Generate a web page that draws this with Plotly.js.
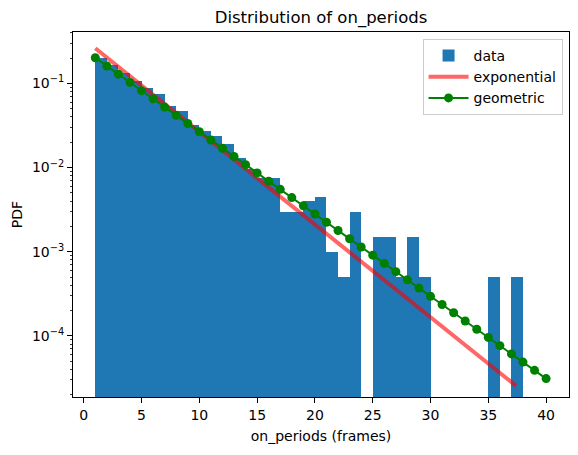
<!DOCTYPE html>
<html>
<head>
<meta charset="utf-8">
<script src="https://cdn.plot.ly/plotly-3.0.1.min.js"></script>
<style>html,body{margin:0;padding:0;background:#fff;}#chart{width:578px;height:455px;}</style>
</head>
<body>
<div id="chart"></div>
<script>
// Histogram bins (left edges, width 1) and density heights
var binLeft = [1,2,3,4,5,6,7,8,9,10,11,12,13,14,15,16,17,18,19,20,21,22,23,24,25,26,27,28,29,30,31,32,33,34,35,36,37];
var density = [0.2,0.163,0.132,0.107,0.0875,0.075,0.054,0.047,0.032,0.027,0.0235,0.019,0.013,0.0095,0.0075,0.0075,0.003,0.003,0.004,0.0045,0.001,0.0005,0.003,0,0.0015,0.0015,0.0005,0.0015,0.0005,0,0,0,0,0,0.0005,0,0.0005];

// Exponential fit curve (sampled)
var expX = [1,5,10,15,20,25,30,35,37.4];
var expY = [0.2612,0.09467,0.02662,0.007483,0.002104,0.0005918,0.0001664,0.0000468,0.00002547];

// Geometric fit (pmf at k)
var geoK = [1,2,3,4,5,6,7,8,9,10,11,12,13,14,15,16,17,18,19,20,21,22,23,24,25,26,27,28,29,30,31,32,33,34,35,36,37,38,39,40];
var geoY = [0.2015,0.1609,0.1285,0.1026,0.08192,0.06541,0.05223,0.04171,0.0333,0.02659,0.02123,0.01696,0.01354,0.01081,0.008632,0.006893,0.005504,0.004395,0.003509,0.002802,0.002237,0.001787,0.001426,0.001139,0.0009094,0.0007262,0.0005798,0.000463,0.0003697,0.0002952,0.0002357,0.0001882,0.0001503,0.00012,0.00009583,0.00007652,0.00006109,0.00004879,0.00003896,0.00003111];

// Tick labels
var xTickVals = [0,5,10,15,20,25,30,35,40];
var yTickVals = [0.1,0.01,0.001,0.0001];
var yTickText = ['10<sup>−1</sup>','10<sup>−2</sup>','10<sup>−3</sup>','10<sup>−4</sup>'];

var barX = binLeft.map(function(v){return v + 0.5;});
var barY = density.map(function(v){return v > 0 ? v : null;});

var minorVals = [];
[-5,-4,-3,-2,-1].forEach(function(e){
  for (var m = 2; m <= 9; m++) minorVals.push(m * Math.pow(10, e));
});

var font = {family: 'DejaVu Sans, sans-serif', size: 14, color: '#000'};

var traces = [
  {type:'bar', x: barX, y: barY, width: 1, name:'data',
   marker:{color:'#1f77b4', line:{width:0}}, hoverinfo:'skip'},
  {type:'scatter', mode:'lines', x: expX, y: expY, name:'exponential',
   line:{color:'rgba(255,0,0,0.6)', width:4}},
  {type:'scatter', mode:'lines+markers', x: geoK, y: geoY, name:'geometric',
   line:{color:'green', width:2}, marker:{color:'green', size:9}}
];

var layout = {
  width: 578, height: 455,
  margin: {l:73, r:9, t:32, b:58, pad:0},
  paper_bgcolor:'#fff', plot_bgcolor:'#fff',
  font: font,
  showlegend: true,
  bargap: 0,
  title: {text:'Distribution of on_periods', font:{family:'DejaVu Sans, sans-serif', size:16.5, color:'#000'},
          x:0.5, xref:'paper', xanchor:'center', y: 1 - 17/455, yref:'container', yanchor:'middle'},
  xaxis: {
    range:[-0.93, 41.98], tickvals: xTickVals, ticks:'outside', ticklen:5, tickwidth:1, tickcolor:'#000',
    showline:true, linecolor:'#000', linewidth:1, mirror:true, showgrid:false, zeroline:false,
    tickfont: font,
    title:{text:'on_periods (frames)', font: font, standoff: 9}
  },
  yaxis: {
    type:'log', range:[-4.726, -0.390], tickvals: yTickVals, ticktext: yTickText,
    ticks:'outside', ticklen:5, tickwidth:1, tickcolor:'#000',
    minor:{tickvals: minorVals, ticks:'outside', ticklen:2.5, tickwidth:0.8, tickcolor:'#000', showgrid:false},
    showline:true, linecolor:'#000', linewidth:1, mirror:true, showgrid:false, zeroline:false,
    tickfont: font,
    title:{text:'PDF', font: font, standoff: 6}
  },
  legend: {
    x: 0.987, xanchor:'right', y: 0.981, yanchor:'top',
    bgcolor:'rgba(255,255,255,0.8)', bordercolor:'#cccccc', borderwidth:1,
    font: font, tracegroupgap: 0, itemwidth: 40
  }
};

Plotly.newPlot('chart', traces, layout, {displayModeBar:false, staticPlot:true});
</script>
</body>
</html>
